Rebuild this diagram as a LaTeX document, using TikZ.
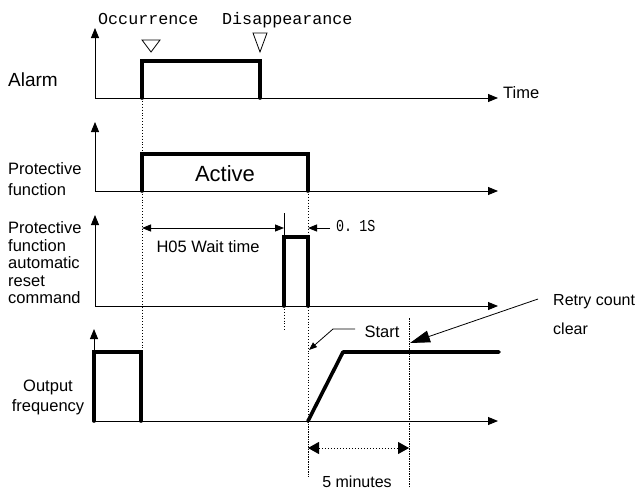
\documentclass[tikz,border=0pt]{standalone}
\usepackage{fontspec}
\setmainfont{Liberation Sans}
\newfontfamily\monof{Liberation Mono}
\newfontfamily\monocond[FakeStretch=0.8]{Liberation Mono}
\usetikzlibrary{arrows.meta}
\begin{document}
\begin{tikzpicture}[x=1pt,y=-1pt,
  axis/.style={line width=0.9pt,-{Triangle[length=10pt,width=8pt]}},
  sig/.style={line width=3.6pt,line cap=round,line join=miter},
  guide/.style={line width=0.9pt,dotted},
  fineguide/.style={line width=0.5pt,dash pattern=on 1.5pt off 1pt},
  dimline/.style={line width=0.9pt},
  lbl/.style={font=\fontsize{16.5}{17.5}\selectfont,inner sep=0pt},
  monolbl/.style={font=\monof\fontsize{16.7}{18}\selectfont,inner sep=0pt},
  condlbl/.style={font=\monocond\fontsize{16.7}{18}\selectfont,inner sep=0pt}
]
\useasboundingbox (0,0) rectangle (637,490);

% ---------- labels on the left
\node[lbl,font=\fontsize{19}{20}\selectfont,anchor=west] (lalarm) at (8,80) {Alarm};
\node[lbl,anchor=west,align=left] (lprot) at (8,179.5) {Protective\\[3.5pt]function};
\node[lbl,anchor=west,align=left] (lreset) at (8,263) {Protective\\function\\automatic\\reset\\command};
\node[lbl,align=center] (lout) at (48,397) {Output\\[2.5pt]frequency};

% ---------- top texts
\node[monolbl,anchor=base west] (occ) at (98,24) {Occurrence};
\node[monolbl,anchor=base west] (dis) at (222,24) {Disappearance};
\draw[line width=0.8pt] (142,40) -- (160,40) -- (151,52) -- cycle;
\draw[line width=0.8pt] (253,33) -- (267,33) -- (260,52) -- cycle;

% ---------- guides
\coordinate (g1t) at (142,98);  \coordinate (g1b) at (142,352);
\coordinate (g2t) at (308,191); \coordinate (g2b) at (308,421);
\coordinate (g3t) at (284,306); \coordinate (g3b) at (284,330);
\draw[guide] (g1t) -- (g1b);
\draw[guide] (g2t) -- (g2b);
\draw[guide] (g3t) -- (g3b);
\coordinate (f1t) at (308,421); \coordinate (f1b) at (308,477);
\coordinate (f2t) at (409,318); \coordinate (f2b) at (409,487);
\draw[fineguide] (f1t) -- (f1b);
\draw[fineguide] (f2t) -- (f2b);

% ---------- Alarm panel
\coordinate (o1) at (95,98);
\draw[axis] (o1) -- (95,28);
\draw[axis] (o1) -- (498,98);
\node[lbl,anchor=west] (time) at (503,93) {Time};
\draw[sig] (142,98) -- (142,61) -- (260,61) -- (260,98);

% ---------- Protective function panel
\coordinate (o2) at (95,191);
\draw[axis] (o2) -- (95,122);
\draw[axis] (o2) -- (498,191);
\draw[sig] (142,191) -- (142,154) -- (308,154) -- (308,191);
\node[lbl,font=\fontsize{22}{24}\selectfont] (active) at (225,174) {Active};

% ---------- Reset command panel
\coordinate (o3) at (95,306);
\draw[axis] (o3) -- (95,215);
\draw[axis] (o3) -- (498,306);
\draw[sig] (284,306) -- (284,237) -- (308,237) -- (308,306);
\coordinate (tickt) at (284,213); \coordinate (tickb) at (284,237);
\draw[line width=0.5pt] (tickt) -- (tickb);
\coordinate (wl) at (142,228); \coordinate (wr) at (284,228);
\draw[dimline,{Triangle[length=9pt,width=7pt]}-{Triangle[length=9pt,width=7pt]}] (wl) -- (wr);
\node[lbl] (wait) at (208,247) {H05 Wait time};
\coordinate (sr) at (330,228); \coordinate (sl) at (308,228);
\draw[dimline,-{Triangle[length=9pt,width=7pt]}] (sr) -- (sl);
\node[condlbl,anchor=base west] (tenth) at (336,231) {0.\kern-1pt\ 1S};

% ---------- Output frequency panel
\coordinate (o4) at (94,421);
\draw[axis] (o4) -- (94,329);
\draw[axis] (o4) -- (498,421);
\draw[sig] (94,421) -- (94,352) -- (141,352) -- (141,421);
\draw[sig,line join=round] (308,421) -- (343,352) -- (499,352);

% Start
\node[lbl] (start) at (382,332) {Start};
\coordinate (stip) at (309,350);
\draw[line width=0.8pt,-{Triangle[length=8pt,width=6pt]}] (355,329) -- (333,329) -- (stip);

% Retry count clear
\node[lbl,font=\fontsize{16}{17}\selectfont,anchor=west] (retry) at (553,302) {Retry count};
\node[lbl,font=\fontsize{16}{17}\selectfont,anchor=west] (clear) at (553,329) {clear};
\coordinate (rtail) at (538,299); \coordinate (rtip) at (410,343);
\draw[line width=0.8pt,-{Triangle[length=20pt,width=12pt]}] (rtail) -- (rtip);

% 5 minutes
\coordinate (ml) at (308,448); \coordinate (mr) at (409,448);
\draw[line width=1pt,dotted,{Triangle[length=11pt,width=12pt]}-{Triangle[length=11pt,width=12pt]}] (ml) -- (mr);
\node[lbl,font=\fontsize{16}{17}\selectfont] (five) at (357,482) {5 minutes};
\end{tikzpicture}
\end{document}
